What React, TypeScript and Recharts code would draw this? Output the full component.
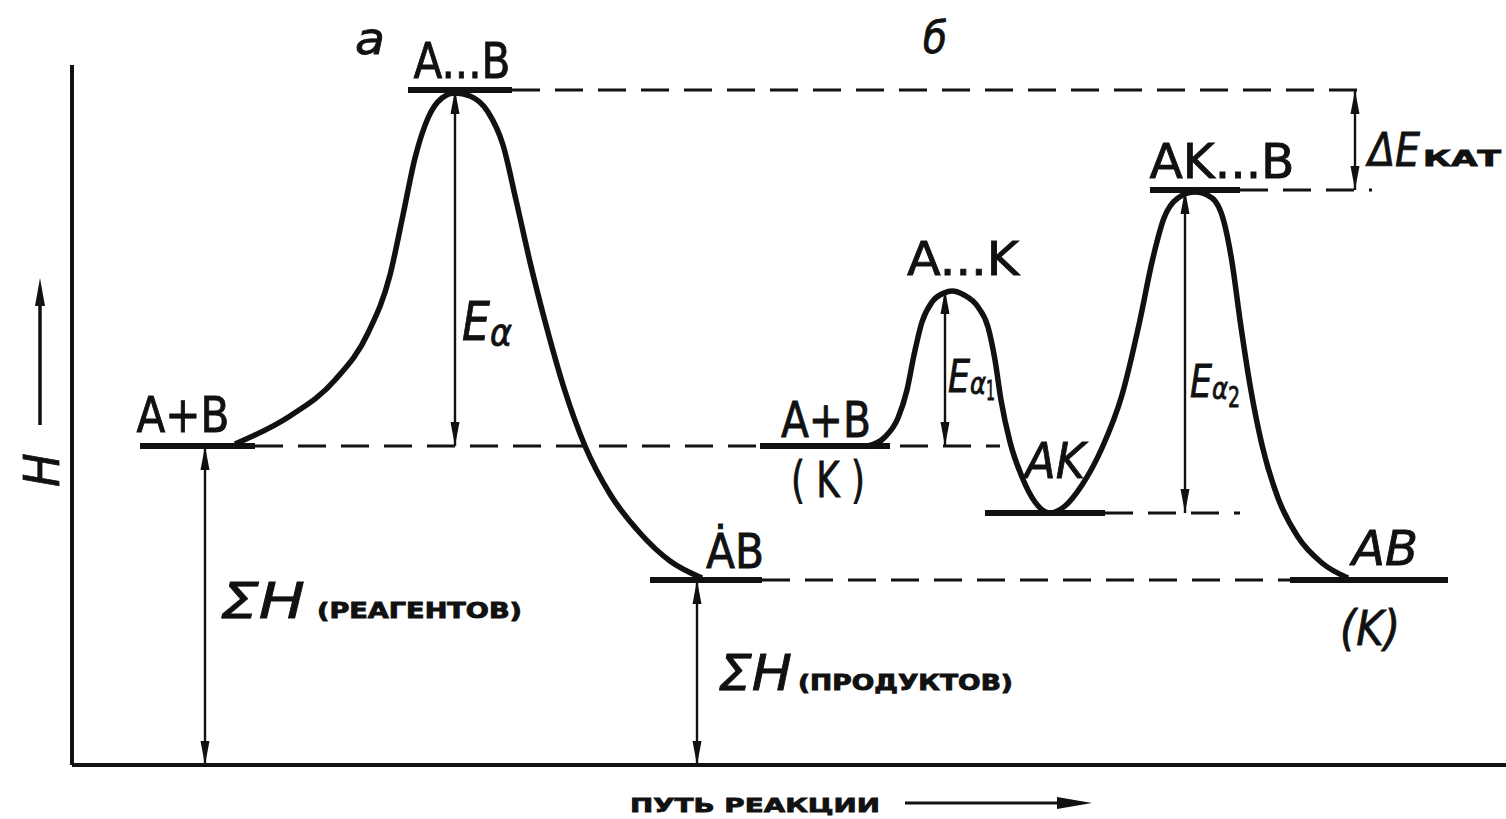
import React from "react";
import {
  ComposedChart,
  Line,
  XAxis,
  YAxis,
  ReferenceLine,
  ReferenceDot,
} from "recharts";

// reaction path coordinate (0..1434) vs enthalpy H (0..700)
const pathUncat = [
  { x: 163, h: 321 }, { x: 218, h: 349 }, { x: 263, h: 385 }, { x: 296, h: 432 },
  { x: 318, h: 490 }, { x: 331, h: 550 }, { x: 343, h: 607 }, { x: 356, h: 647 },
  { x: 370, h: 667 }, { x: 383, h: 672 }, { x: 398, h: 669 }, { x: 416, h: 653 },
  { x: 431, h: 620 }, { x: 444, h: 565 }, { x: 458, h: 503 }, { x: 474, h: 440 },
  { x: 492, h: 377 }, { x: 513, h: 319 }, { x: 538, h: 271 }, { x: 568, h: 232 },
  { x: 598, h: 204 }, { x: 630, h: 187 },
];

const pathCat = [
  { x: 796, h: 319 }, { x: 813, h: 328 }, { x: 826, h: 347 }, { x: 835, h: 375 },
  { x: 842, h: 410 }, { x: 850, h: 443 }, { x: 860, h: 463 }, { x: 872, h: 472 },
  { x: 880, h: 474 }, { x: 892, h: 470 }, { x: 906, h: 458 }, { x: 916, h: 438 },
  { x: 923, h: 405 }, { x: 929, h: 365 }, { x: 938, h: 323 }, { x: 950, h: 288 },
  { x: 963, h: 263 }, { x: 978, h: 252 }, { x: 993, h: 259 }, { x: 1010, h: 280 },
  { x: 1030, h: 317 }, { x: 1050, h: 370 }, { x: 1068, h: 445 }, { x: 1080, h: 503 },
  { x: 1092, h: 547 }, { x: 1106, h: 567 }, { x: 1123, h: 573 }, { x: 1140, h: 567 },
  { x: 1152, h: 543 }, { x: 1160, h: 503 }, { x: 1168, h: 445 }, { x: 1178, h: 380 },
  { x: 1190, h: 320 }, { x: 1206, h: 267 }, { x: 1226, h: 228 }, { x: 1250, h: 202 },
  { x: 1276, h: 187 },
];

// state levels: [from, to, H]
const stateBars = [
  [336, 440, 675], // A...B
  [68, 183, 319], // A+B
  [578, 690, 185], // AB
  [688, 818, 319], // A+B (K)
  [913, 1033, 252], // AK
  [1078, 1168, 575], // AK...B
  [1218, 1376, 185], // AB (K)
];

// dashed guides: [from, to, H]
const guides = [
  [440, 1300, 675],
  [183, 928, 319],
  [1168, 1300, 575],
  [1033, 1168, 252],
  [690, 1218, 185],
];

// double arrows: [x, H low, H high]
const spans = [
  [383, 319, 675], // Ea
  [133, 0, 319], // ΣH reagents
  [625, 0, 185], // ΣH products
  [873, 319, 475], // Ea1
  [1113, 252, 575], // Ea2
  [1283, 575, 675], // ΔE kat
];

type Part = { t: string; size: number; italic?: boolean; bold?: boolean; dy?: number; dx?: number; w?: number };
type Note = { x: number; h: number; parts: Part[]; anchor?: "start" | "middle" | "end" };

const notes: Note[] = [
  { x: 298, h: 711, parts: [{ t: "а", size: 44, italic: true, w: 30 }] },
  { x: 863, h: 712, parts: [{ t: "б", size: 44, italic: true, w: 24 }] },
  { x: 390, h: 687, parts: [{ t: "A...B", size: 50, w: 97 }] },
  { x: 111, h: 333, parts: [{ t: "A+B", size: 50, w: 93 }] },
  { x: 754, h: 328, parts: [{ t: "A+B", size: 50, w: 90 }] },
  { x: 756, h: 268, parts: [{ t: "( K )", size: 50, w: 74 }] },
  { x: 891, h: 490, parts: [{ t: "A...K", size: 46, w: 112 }] },
  { x: 983, h: 287, parts: [{ t: "AK", size: 50, italic: true, w: 60 }] },
  { x: 1150, h: 587, parts: [{ t: "AK...B", size: 48, w: 145 }] },
  { x: 663, h: 197, parts: [{ t: "ȦB", size: 48, w: 58 }] },
  { x: 1313, h: 200, parts: [{ t: "AB", size: 48, italic: true, w: 66 }] },
  { x: 1298, h: 120, parts: [{ t: "(K)", size: 48, italic: true, w: 60 }] },
  {
    x: 390, h: 425, anchor: "start",
    parts: [{ t: "E", size: 54, italic: true, w: 28 }, { t: "α", size: 38, italic: true, dy: 5, w: 22 }],
  },
  {
    x: 876, h: 373, anchor: "start",
    parts: [
      { t: "E", size: 44, italic: true, w: 22 },
      { t: "α", size: 30, italic: true, dy: 2, w: 16 },
      { t: "1", size: 26, dy: 6, w: 9 },
    ],
  },
  {
    x: 1118, h: 368, anchor: "start",
    parts: [
      { t: "E", size: 44, italic: true, w: 22 },
      { t: "α", size: 30, italic: true, dy: 2, w: 16 },
      { t: "2", size: 28, dy: 8, w: 12 },
    ],
  },
  {
    x: 1296, h: 599, anchor: "start",
    parts: [{ t: "ΔE", size: 46, italic: true, w: 52 }, { t: "КАТ", size: 22, bold: true, dx: 3, w: 78 }],
  },
  {
    x: 148, h: 147, anchor: "start",
    parts: [{ t: "ΣH", size: 50, italic: true, w: 85 }, { t: "(РЕАГЕНТОВ)", size: 21, bold: true, dx: 12, w: 205 }],
  },
  {
    x: 646, h: 75, anchor: "start",
    parts: [{ t: "ΣH", size: 50, italic: true, w: 74 }, { t: "(ПРОДУКТОВ)", size: 21, bold: true, dx: 6, w: 215 }],
  },
];

const INK = "#111";
const FONT = "'Liberation Sans Narrow', 'DejaVu Sans Condensed', 'Liberation Sans', sans-serif";

const renderNote = (n: Note) => (props: any) => {
  const vb = props.viewBox || {};
  return (
    <text
      x={vb.x}
      y={vb.y}
      textAnchor={n.anchor || "middle"}
      fill={INK}
      stroke={INK}
      strokeWidth={0.8}
      fontFamily={FONT}
    >
      {n.parts.map((p, i) => (
        <tspan
          key={i}
          fontSize={p.size}
          fontStyle={p.italic ? "italic" : "normal"}
          fontWeight={p.bold ? 700 : 400}
          dy={p.dy}
          dx={p.dx}
          textLength={p.w}
          lengthAdjust={p.w ? "spacingAndGlyphs" : undefined}
        >
          {p.t}
        </tspan>
      ))}
    </text>
  );
};

const DoubleArrow = (props: any) => {
  const { x1, y1, x2, y2 } = props;
  const hl = 24;
  const hw = 4.5;
  const s = y1 > y2 ? 1 : -1;
  return (
    <g>
      <line x1={x1} y1={y1} x2={x2} y2={y2} stroke={INK} strokeWidth={2.4} />
      <polygon points={`${x2},${y2} ${x2 - hw},${y2 + s * hl} ${x2 + hw},${y2 + s * hl}`} fill={INK} />
      <polygon points={`${x1},${y1} ${x1 - hw},${y1 - s * hl} ${x1 + hw},${y1 - s * hl}`} fill={INK} />
    </g>
  );
};

// axis titles drawn with fixed offsets from the plot corner (72, 765)
const AxisTitles = () => (
  <g>
    <text
      x={42}
      y={470}
      transform="rotate(-90 42 470)"
      textAnchor="middle"
      dominantBaseline="central"
      fontFamily={FONT}
      fontStyle="italic"
      fontSize={50}
      fill={INK}
      stroke={INK}
      strokeWidth={0.8}
    >
      H
    </text>
    <line x1={40} y1={425} x2={40} y2={305} stroke={INK} strokeWidth={3.5} />
    <polygon points="40,278 35,306 45,306" fill={INK} />
    <text
      x={630}
      y={812}
      fontFamily="'DejaVu Sans', sans-serif"
      fontWeight={700}
      fontSize={20}
      fill={INK}
      stroke={INK}
      strokeWidth={0.8}
      textLength={250}
      lengthAdjust="spacingAndGlyphs"
    >
      ПУТЬ РЕАКЦИИ
    </text>
    <line x1={905} y1={803} x2={1062} y2={803} stroke={INK} strokeWidth={3} />
    <polygon points="1092,803 1057,797 1057,809" fill={INK} />
  </g>
);

export default function App() {
  return (
    <div style={{ position: "absolute", left: 0, top: 0, width: 1506, height: 819, background: "#fff" }}>
      <ComposedChart width={1506} height={819} margin={{ top: 65, right: 0, bottom: 53, left: 71 }}>
        <XAxis
          type="number"
          dataKey="x"
          domain={[0, 1434]}
          allowDataOverflow
          height={1}
          tick={false}
          tickLine={false}
          axisLine={{ stroke: INK, strokeWidth: 4 }}
        />
        <YAxis
          type="number"
          dataKey="h"
          domain={[0, 700]}
          allowDataOverflow
          width={1}
          tick={false}
          tickLine={false}
          axisLine={{ stroke: INK, strokeWidth: 4 }}
        />
        {guides.map(([a, b, h], i) => (
          <ReferenceLine
            key={`g${i}`}
            segment={[{ x: a, y: h }, { x: b, y: h }]}
            stroke={INK}
            strokeWidth={3}
            strokeDasharray="28 15"
          />
        ))}
        {stateBars.map(([a, b, h], i) => (
          <ReferenceLine
            key={`s${i}`}
            segment={[{ x: a, y: h }, { x: b, y: h }]}
            stroke={INK}
            strokeWidth={6}
          />
        ))}
        {spans.map(([x, lo, hi], i) => (
          <ReferenceLine
            key={`a${i}`}
            segment={[{ x, y: lo }, { x, y: hi }]}
            shape={DoubleArrow}
          />
        ))}
        <Line
          data={pathUncat}
          dataKey="h"
          type="monotone"
          stroke={INK}
          strokeWidth={5.5}
          dot={false}
          activeDot={false}
          isAnimationActive={false}
        />
        <Line
          data={pathCat}
          dataKey="h"
          type="monotone"
          stroke={INK}
          strokeWidth={5.5}
          dot={false}
          activeDot={false}
          isAnimationActive={false}
        />
        {notes.map((n, i) => (
          <ReferenceDot
            key={`n${i}`}
            x={n.x}
            y={n.h}
            r={0}
            fill="none"
            stroke="none"
            ifOverflow="visible"
            label={renderNote(n)}
          />
        ))}
      </ComposedChart>
      <svg
        width={1506}
        height={819}
        style={{ position: "absolute", left: 0, top: 0, pointerEvents: "none" }}
      >
        <AxisTitles />
      </svg>
    </div>
  );
}
